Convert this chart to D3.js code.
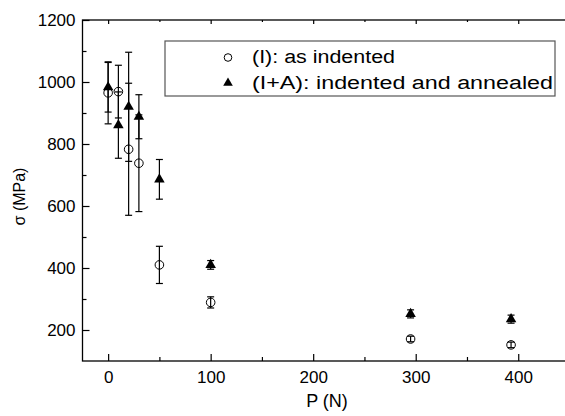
<!DOCTYPE html>
<html>
<head>
<meta charset="utf-8">
<script src="https://cdn.jsdelivr.net/npm/d3@7"></script>
<style>
  body { margin: 0; background: #fff; }
  text { font-family: "Liberation Sans", Arial, sans-serif; }
</style>
</head>
<body>
<div id="chart"></div>
<script>
// load P (N)
var loads = [0, 10, 20, 30, 50, 100, 295, 393];
// (I): as indented
var sigmaI = [965, 969, 783, 738, 410, 289, 171, 152];
var errI = [100, 85, 213, 156, 60, 18, 9, 9];
// (I+A): indented and annealed
var sigmaIA = [983, 861, 920, 888, 686, 410, 252, 235];
var errIA = [80, 107, 176, 71, 64, 14, 13, 13];

var xTicks = [0, 100, 200, 300, 400];
var yTicks = [200, 400, 600, 800, 1000, 1200];

var margin = { top: 20, right: 0, bottom: 55, left: 82.5 },
    width = 487,
    height = 341;

var svg = d3.select("#chart")
    .append("svg")
    .attr("width", 565)
    .attr("height", 416)
    .append("g")
    .attr("transform", "translate(" + margin.left + "," + margin.top + ")");

var x = d3.scaleLinear().domain([-25, 450]).range([0, width]);
var y = d3.scaleLinear().domain([100, 1200]).range([height, 0]);

// frame
svg.append("rect")
    .attr("x", 0).attr("y", 0)
    .attr("width", width).attr("height", height)
    .attr("fill", "none")
    .attr("stroke", "#000")
    .attr("stroke-width", 1.3);

function styleAxis(g) {
    g.select(".domain").remove();
    g.selectAll("line").attr("stroke", "#000").attr("stroke-width", 1.2);
    g.selectAll("text").attr("fill", "#000").style("font-size", "17px")
        .style("font-family", "Liberation Sans, Arial, sans-serif");
}

var fmt = d3.format("d");

// bottom axis
svg.append("g")
    .attr("transform", "translate(0," + height + ")")
    .call(d3.axisBottom(x).tickValues(xTicks).tickFormat(fmt).tickSizeInner(-7).tickSizeOuter(0).tickPadding(10))
    .call(styleAxis);
svg.append("g")
    .attr("transform", "translate(0," + height + ")")
    .call(d3.axisBottom(x).tickValues([50, 150, 250, 350]).tickSizeInner(-4).tickSizeOuter(0).tickFormat(""))
    .call(styleAxis);
// top axis ticks
svg.append("g")
    .call(d3.axisTop(x).tickValues(xTicks).tickSizeInner(-4).tickSizeOuter(0).tickFormat(""))
    .call(styleAxis);
svg.append("g")
    .call(d3.axisTop(x).tickValues([50, 150, 250, 350]).tickSizeInner(-2).tickSizeOuter(0).tickFormat(""))
    .call(styleAxis);

// left axis
svg.append("g")
    .call(d3.axisLeft(y).tickValues(yTicks).tickFormat(fmt).tickSizeInner(-7).tickSizeOuter(0).tickPadding(7))
    .call(styleAxis);
svg.append("g")
    .call(d3.axisLeft(y).tickValues([300, 500, 700, 900, 1100]).tickSizeInner(-4).tickSizeOuter(0).tickFormat(""))
    .call(styleAxis);

// axis titles
svg.append("text")
    .attr("x", width / 2 + 1)
    .attr("y", height + 46)
    .attr("text-anchor", "middle")
    .style("font-size", "18px")
    .text("P (N)");

svg.append("text")
    .attr("transform", "translate(" + (-58) + "," + (height / 2 + 6) + ") rotate(-90)")
    .attr("text-anchor", "middle")
    .style("font-size", "16px")
    .text("σ (MPa)");

var tri = d3.symbol().type(d3.symbolTriangle).size(48);
var cap = 3.5;

// markers
svg.selectAll(".ptI")
    .data(loads)
    .enter().append("circle")
    .attr("class", "ptI")
    .attr("cx", function (d) { return x(d); })
    .attr("cy", function (d, i) { return y(sigmaI[i]); })
    .attr("r", 4.3)
    .attr("fill", "#fff")
    .attr("stroke", "#000")
    .attr("stroke-width", 1);

svg.selectAll(".ptIA")
    .data(loads)
    .enter().append("path")
    .attr("class", "ptIA")
    .attr("d", tri)
    .attr("transform", function (d, i) { return "translate(" + x(d) + "," + y(sigmaIA[i]) + ")"; })
    .attr("fill", "#000");

// error bars
function errorBars(vals, errs, cls) {
    var g = svg.selectAll("." + cls)
        .data(loads)
        .enter().append("g")
        .attr("class", cls)
        .attr("stroke", "#000")
        .attr("stroke-width", 1.2);
    g.append("line")
        .attr("x1", function (d) { return x(d); })
        .attr("x2", function (d) { return x(d); })
        .attr("y1", function (d, i) { return y(vals[i] + errs[i]); })
        .attr("y2", function (d, i) { return y(vals[i] - errs[i]); });
    g.append("line")
        .attr("x1", function (d) { return x(d) - cap; })
        .attr("x2", function (d) { return x(d) + cap; })
        .attr("y1", function (d, i) { return y(vals[i] + errs[i]); })
        .attr("y2", function (d, i) { return y(vals[i] + errs[i]); });
    g.append("line")
        .attr("x1", function (d) { return x(d) - cap; })
        .attr("x2", function (d) { return x(d) + cap; })
        .attr("y1", function (d, i) { return y(vals[i] - errs[i]); })
        .attr("y2", function (d, i) { return y(vals[i] - errs[i]); });
}
errorBars(sigmaI, errI, "errI");
errorBars(sigmaIA, errIA, "errIA");

// legend
var legend = svg.append("g").attr("transform", "translate(" + (165 - margin.left) + "," + (41 - margin.top) + ")");
legend.append("rect")
    .attr("width", 390).attr("height", 55)
    .attr("fill", "#fff")
    .attr("stroke", "#555")
    .attr("stroke-width", 1.2);
legend.append("circle")
    .attr("cx", 63).attr("cy", 16.5).attr("r", 3.8)
    .attr("fill", "#fff").attr("stroke", "#000");
legend.append("path")
    .attr("d", d3.symbol().type(d3.symbolTriangle).size(40))
    .attr("transform", "translate(63,42)")
    .attr("fill", "#000");
legend.append("text").attr("x", 87).attr("y", 21.5).style("font-size", "18px")
    .attr("textLength", 143).attr("lengthAdjust", "spacingAndGlyphs")
    .text("(I): as indented");
legend.append("text").attr("x", 87).attr("y", 48).style("font-size", "18px")
    .attr("textLength", 301).attr("lengthAdjust", "spacingAndGlyphs")
    .text("(I+A): indented and annealed");
</script>
</body>
</html>
